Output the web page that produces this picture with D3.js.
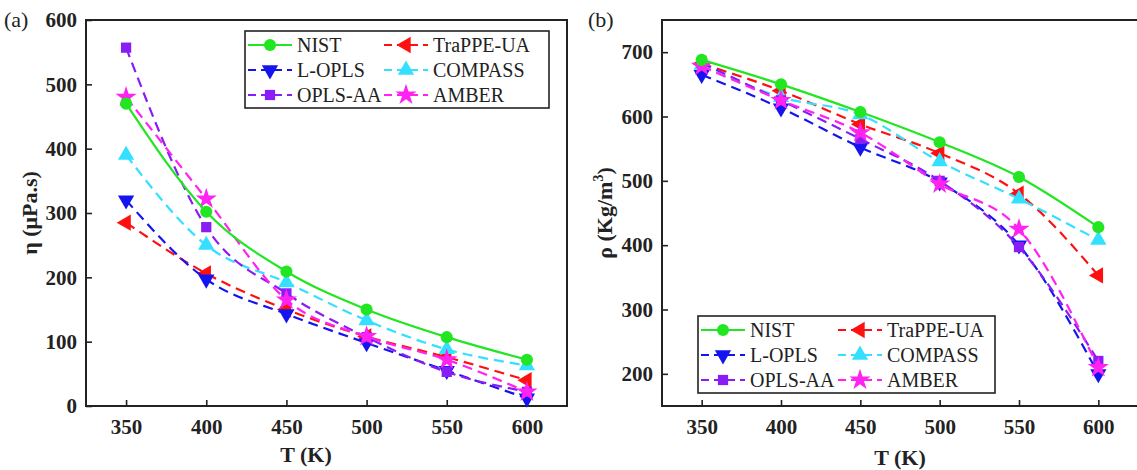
<!DOCTYPE html>
<html>
<head>
<meta charset="utf-8">
<script src="https://cdn.jsdelivr.net/npm/d3@7"></script>
<style>
  body { margin: 0; background: #fff; }
  svg { display: block; font-family: "Liberation Serif", "Times New Roman", serif; }
</style>
</head>
<body>
<svg id="chart" width="1137" height="470"></svg>
<script>
// -------- DATA --------
const temps = [350, 400, 450, 500, 550, 600];
const seriesNames = ["NIST", "TraPPE-UA", "L-OPLS", "COMPASS", "OPLS-AA", "AMBER"];

// viscosity, µPa.s
const viscNIST    = [470, 302, 209, 150, 107, 72];
const viscTraPPE  = [285, 206, 150, 108, 76, 40];
const viscLOPLS   = [320, 197, 143, 98, 55, 12];
const viscCOMPASS = [390, 250, 192, 133, 88, 63];
const viscOPLSAA  = [557, 278, 175, 107, 53, 22];
const viscAMBER   = [480, 322, 165, 108, 72, 22];

// density, kg/m3
const densNIST    = [688, 650, 607, 560, 506, 428];
const densTraPPE  = [682, 640, 588, 543, 480, 353];
const densLOPLS   = [665, 613, 552, 498, 400, 200];
const densCOMPASS = [680, 630, 603, 530, 472, 408];
const densOPLSAA  = [683, 625, 565, 500, 397, 220];
const densAMBER   = [678, 625, 575, 495, 425, 210];

const viscTicks = [0, 100, 200, 300, 400, 500, 600];
const densTicks = [200, 300, 400, 500, 600, 700];

// -------- STYLE --------
const styles = {
  "NIST":      { color: "#22e622", symbol: "circle",  dash: null },
  "TraPPE-UA": { color: "#ff1010", symbol: "left",    dash: "10,6" },
  "L-OPLS":    { color: "#1414f0", symbol: "down",    dash: "10,6" },
  "COMPASS":   { color: "#33e0ff", symbol: "up",      dash: "10,6" },
  "OPLS-AA":   { color: "#8a1cf5", symbol: "square",  dash: "10,6" },
  "AMBER":     { color: "#ff22f0", symbol: "star",    dash: "10,6" }
};

const svg = d3.select("#chart");
const ink = "#222";

function symbolPath(kind) {
  if (kind === "circle") return d3.symbol(d3.symbolCircle, 115)();
  if (kind === "square") return d3.symbol(d3.symbolSquare, 105)();
  if (kind === "star") return d3.symbol(d3.symbolStar, 140)();
  return d3.symbol(d3.symbolTriangle, 115)();
}
function symbolRotate(kind) {
  if (kind === "down") return 180;
  if (kind === "left") return -90;
  return 0;
}

function drawPanel(opts) {
  const { x0, x1, y0, y1, yDomain, yTicks, series, label, labelX, yTitle, yTitleX, xTitleX, xTitleY, legend } = opts;

  const x = d3.scaleLinear().domain([325, 625]).range([x0, x1]);
  const y = d3.scaleLinear().domain(yDomain).range([y1, y0]);
  const g = svg.append("g");

  // axes with inward ticks
  const xAxis = d3.axisBottom(x).tickValues(temps).tickSize(-6).tickPadding(13);
  const yAxis = d3.axisLeft(y).tickValues(yTicks).tickSize(-6).tickPadding(9);

  const gx = g.append("g").attr("transform", `translate(0,${y1})`).call(xAxis);
  const gy = g.append("g").attr("transform", `translate(${x0},0)`).call(yAxis);
  [gx, gy].forEach(a => {
    a.attr("font-family", null);
    a.select(".domain").remove();
    a.selectAll("line").attr("stroke", ink).attr("stroke-width", 1.6);
    a.selectAll("text").attr("font-size", 21).attr("font-weight", "bold").attr("fill", ink);
  });

  // frame
  g.append("rect")
    .attr("x", x0).attr("y", y0)
    .attr("width", x1 - x0).attr("height", y1 - y0)
    .attr("fill", "none").attr("stroke", ink).attr("stroke-width", 2);

  // lines + markers
  const line = d3.line()
    .x((d, i) => x(temps[i]))
    .y(d => y(d))
    .curve(d3.curveMonotoneX);

  const order = ["TraPPE-UA", "L-OPLS", "COMPASS", "OPLS-AA", "AMBER", "NIST"];
  order.forEach(name => {
    const st = styles[name];
    const vals = series[name];
    g.append("path")
      .attr("d", line(vals))
      .attr("fill", "none")
      .attr("stroke", st.color)
      .attr("stroke-width", 2.2)
      .attr("stroke-dasharray", st.dash);
    g.selectAll(null)
      .data(vals)
      .enter()
      .append("path")
      .attr("d", symbolPath(st.symbol))
      .attr("transform", (d, i) => `translate(${x(temps[i])},${y(d)}) rotate(${symbolRotate(st.symbol)})`)
      .attr("fill", st.color);
  });

  // panel label
  svg.append("text")
    .attr("x", labelX).attr("y", 27)
    .attr("font-size", 22).attr("fill", ink)
    .text(label);

  // y title
  svg.append("text")
    .attr("transform", `translate(${yTitleX},${(y0 + y1) / 2}) rotate(-90)`)
    .attr("text-anchor", "middle")
    .attr("font-size", 22).attr("font-weight", "bold").attr("fill", ink)
    .call(yTitle);

  // x title
  svg.append("text")
    .attr("x", xTitleX).attr("y", xTitleY)
    .attr("text-anchor", "middle")
    .attr("font-size", 22).attr("font-weight", "bold").attr("fill", ink)
    .text("T (K)");

  // legend
  const lg = svg.append("g").attr("transform", `translate(${legend.x},${legend.y})`);
  lg.append("rect")
    .attr("width", legend.w).attr("height", 77)
    .attr("fill", "#fff").attr("stroke", ink).attr("stroke-width", 1.6);
  const cols = [["NIST", "L-OPLS", "OPLS-AA"], ["TraPPE-UA", "COMPASS", "AMBER"]];
  cols.forEach((col, ci) => {
    const cx = ci === 0 ? 3 : legend.col2;
    col.forEach((name, ri) => {
      const st = styles[name];
      const yy = 14 + ri * 25;
      lg.append("line")
        .attr("x1", cx).attr("x2", cx + 44)
        .attr("y1", yy).attr("y2", yy)
        .attr("stroke", st.color).attr("stroke-width", 2.2)
        .attr("stroke-dasharray", st.dash ? "8,5" : null);
      lg.append("path")
        .attr("d", symbolPath(st.symbol))
        .attr("transform", `translate(${cx + 22},${yy}) rotate(${symbolRotate(st.symbol)})`)
        .attr("fill", st.color);
      lg.append("text")
        .attr("x", cx + 49).attr("y", yy + 7)
        .attr("font-size", 20).attr("fill", ink)
        .text(name);
    });
  });
}

drawPanel({
  x0: 86, x1: 567, y0: 20, y1: 406,
  yDomain: [0, 600], yTicks: viscTicks,
  series: {
    "NIST": viscNIST, "TraPPE-UA": viscTraPPE, "L-OPLS": viscLOPLS,
    "COMPASS": viscCOMPASS, "OPLS-AA": viscOPLSAA, "AMBER": viscAMBER
  },
  label: "(a)", labelX: 4,
  yTitleX: 37,
  yTitle: t => { t.text("η (μPa.s)"); },
  xTitleX: 306, xTitleY: 462,
  legend: { x: 245, y: 31, w: 304, col2: 139 }
});

drawPanel({
  x0: 662, x1: 1138, y0: 20, y1: 406,
  yDomain: [150, 750], yTicks: densTicks,
  series: {
    "NIST": densNIST, "TraPPE-UA": densTraPPE, "L-OPLS": densLOPLS,
    "COMPASS": densCOMPASS, "OPLS-AA": densOPLSAA, "AMBER": densAMBER
  },
  label: "(b)", labelX: 588,
  yTitleX: 612,
  yTitle: t => {
    t.append("tspan").text("ρ (Kg/m");
    t.append("tspan").attr("font-size", 14).attr("dy", -9).text("3");
    t.append("tspan").attr("dy", 9).text(")");
  },
  xTitleX: 900, xTitleY: 465,
  legend: { x: 698, y: 316, w: 297, col2: 140 }
});
</script>
</body>
</html>
